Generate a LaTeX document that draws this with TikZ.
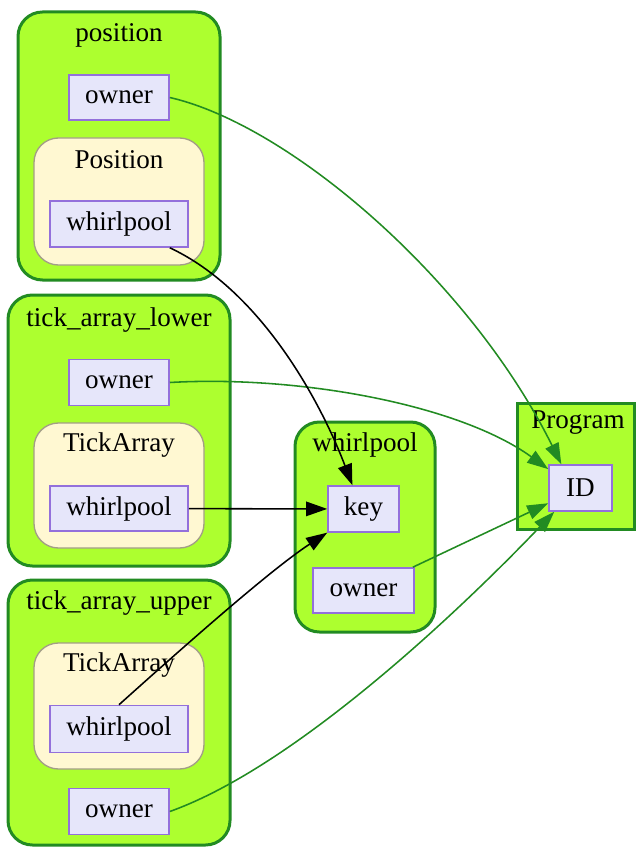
\documentclass[tikz,border=0pt]{standalone}
\usepackage{fontspec}
\setmainfont{Liberation Serif}
\usetikzlibrary{arrows.meta}
\definecolor{clfill}{HTML}{ADFF2F}
\definecolor{cldraw}{HTML}{228B22}
\definecolor{nfill}{HTML}{E6E6FA}
\definecolor{ndraw}{HTML}{9370DB}
\definecolor{ifill}{HTML}{FFF8D2}
\definecolor{idraw}{HTML}{A39E86}
\tikzset{
  cluster/.style={draw=cldraw, fill=clfill, line width=1.35pt, rounded corners=11pt},
  inner/.style={draw=idraw, fill=ifill, line width=0.6pt, rounded corners=11pt},
  fld/.style={draw=ndraw, fill=nfill, line width=0.7pt, inner sep=0pt, font=\fontsize{12.2}{14}\selectfont},
  ttl/.style={inner sep=0pt, font=\fontsize{12.2}{14}\selectfont},
  gedge/.style={draw=cldraw, line width=0.7pt, -{Triangle[length=9.5pt,width=6.5pt,fill=cldraw]}},
  bedge/.style={draw=black, line width=0.7pt, -{Triangle[length=9.5pt,width=6.5pt,fill=black]}},
}
\begin{document}
\begin{tikzpicture}[x=0.45pt,y=-0.45pt]
\useasboundingbox (0,0) rectangle (636,848);
% clusters
\draw[cluster] (18,12) rectangle (220,280);
\draw[inner] (34,138) rectangle (204,265);
\draw[cluster] (8,295) rectangle (230,566);
\draw[inner] (34,423) rectangle (204,548);
\draw[cluster] (8,580) rectangle (230,845);
\draw[inner] (34,643) rectangle (204,769);
\draw[cluster] (295,422) rectangle (435,632);
\draw[cluster, rounded corners=0pt] (517,403) rectangle (634,529);
% titles
\node[ttl] (t_pos) at (119,35) {position};
\node[ttl] (t_posi) at (119,160) {Position};
\node[ttl] (t_tal) at (119,320) {tick\_array\_lower};
\node[ttl] (t_tali) at (119,445) {TickArray};
\node[ttl] (t_tau) at (119,603) {tick\_array\_upper};
\node[ttl] (t_taui) at (119,665) {TickArray};
\node[ttl] (t_wp) at (365,445) {whirlpool};
\node[ttl] (t_prog) at (578,423) {Program};
% fields
\node[fld, minimum width={100*0.45pt}, minimum height={45*0.45pt}] (pos_owner) at (119,97.5) {owner};
\node[fld, minimum width={138*0.45pt}, minimum height={46*0.45pt}] (pos_wp) at (119,224) {whirlpool};
\node[fld, minimum width={100*0.45pt}, minimum height={46*0.45pt}] (tal_owner) at (119,382.5) {owner};
\node[fld, minimum width={138*0.45pt}, minimum height={45*0.45pt}] (tal_wp) at (119,508.5) {whirlpool};
\node[fld, minimum width={138*0.45pt}, minimum height={47*0.45pt}] (tau_wp) at (119,729) {whirlpool};
\node[fld, minimum width={100*0.45pt}, minimum height={46*0.45pt}] (tau_owner) at (119,811.5) {owner};
\node[fld, minimum width={71*0.45pt}, minimum height={46*0.45pt}] (key) at (363.5,509) {key};
\node[fld, minimum width={101*0.45pt}, minimum height={45*0.45pt}] (wp_owner) at (363.5,590.5) {owner};
\node[fld, minimum width={63*0.45pt}, minimum height={46*0.45pt}] (ID) at (580.5,488) {ID};
% edges
\draw[gedge] (pos_owner.east) .. controls (290,125) and (470,280) .. ([xshift=5.9pt]ID.north west);
\draw[gedge] (tal_owner.east) .. controls (300,375) and (460,405) .. ([yshift=-2.2pt]ID.north west);
\draw[gedge] (wp_owner) -- (ID);
\draw[gedge] (tau_owner.east) .. controls (300,765) and (470,600) .. ([xshift=2.7pt]ID.south west);
\draw[bedge] (pos_wp) .. controls (260,290) and (320,400) .. ([xshift=-5pt]key.north);
\draw[bedge] (tal_wp) -- (key);
\draw[bedge] (tau_wp.north) .. controls (180,650) and (270,570) .. (key);
\end{tikzpicture}
\end{document}
